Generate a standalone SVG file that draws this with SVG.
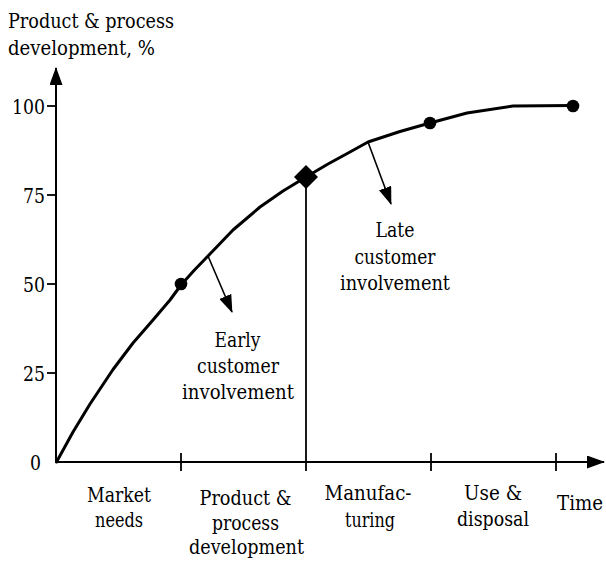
<svg xmlns="http://www.w3.org/2000/svg" width="606" height="561" viewBox="0 0 606 561">
<style>
text{font-family:'DejaVu Serif Condensed','DejaVu Serif','Liberation Serif',serif;font-stretch:condensed;font-size:20px;fill:#000}
.c{text-anchor:middle}
.r{text-anchor:end}
.ax{stroke:#000;stroke-width:2;fill:none}
.tk{stroke:#000;stroke-width:1.8;fill:none}
.cv{stroke:#000;stroke-width:3;fill:none;stroke-linejoin:round;stroke-linecap:round}
.ar{stroke:#000;stroke-width:1.6;fill:none}
</style>
<defs>
<marker id="ah" viewBox="0 0 18 13" refX="17" refY="6.5" markerWidth="18" markerHeight="13" markerUnits="userSpaceOnUse" orient="auto">
<path d="M0,0 L18,6.5 L0,13 z" fill="#000"/>
</marker>
</defs>
<rect width="606" height="561" fill="#fff"/>
<g id="connectors">
<line class="ax" x1="56" y1="462" x2="56" y2="68" marker-end="url(#ah)"/>
<line class="ax" x1="56" y1="462" x2="604" y2="462" marker-end="url(#ah)"/>
<g id="y-ticks">
<line class="tk" x1="47" y1="106" x2="56" y2="106"/>
<line class="tk" x1="47" y1="195" x2="56" y2="195"/>
<line class="tk" x1="47" y1="284" x2="56" y2="284"/>
<line class="tk" x1="47" y1="373" x2="56" y2="373"/>
</g>
<g id="x-ticks">
<line class="tk" x1="181" y1="453" x2="181" y2="471"/>
<line class="tk" x1="431" y1="453" x2="431" y2="471"/>
<line class="tk" x1="556" y1="453" x2="556" y2="471"/>
</g>
<line class="tk" x1="306" y1="177" x2="306" y2="471"/>
<polyline class="cv" points="56.5,462 73,432 90,404 106,380 113,369.5 133,343 153,320 170,300 181,285 194,270.5 208,256 233,230 260,207 283,191 306,177 328,164 350,152 368,142 400,131.5 430,123 467,113 513,106 573,105.5"/>
<line class="ar" x1="208" y1="256" x2="232" y2="312" marker-end="url(#ah)"/>
<line class="ar" x1="368" y1="142" x2="391" y2="204" marker-end="url(#ah)"/>
</g>
<g id="point-50"><circle cx="181" cy="284" r="6.3" fill="#000"/></g>
<g id="point-80"><path d="M306,165 L318,177 L306,189 L294,177 z" fill="#000"/></g>
<g id="point-95"><circle cx="430" cy="123" r="6.3" fill="#000"/></g>
<g id="point-100"><circle cx="573" cy="106" r="6.3" fill="#000"/></g>
<g id="y-title">
<text x="8" y="28" textLength="166" lengthAdjust="spacingAndGlyphs">Product &amp; process</text>
<text x="8" y="55" textLength="147" lengthAdjust="spacingAndGlyphs">development, %</text>
</g>
<g id="y-labels">
<text class="r" x="45" y="113.5" textLength="33" lengthAdjust="spacingAndGlyphs">100</text>
<text class="r" x="45" y="202.5" textLength="22" lengthAdjust="spacingAndGlyphs">75</text>
<text class="r" x="45" y="291.5" textLength="22" lengthAdjust="spacingAndGlyphs">50</text>
<text class="r" x="45" y="380.5" textLength="22" lengthAdjust="spacingAndGlyphs">25</text>
<text class="r" x="41" y="469.5" textLength="11" lengthAdjust="spacingAndGlyphs">0</text>
</g>
<g id="early-label">
<text class="c" x="237.5" y="346.5" textLength="46" lengthAdjust="spacingAndGlyphs">Early</text>
<text class="c" x="238" y="372.5" textLength="82" lengthAdjust="spacingAndGlyphs">customer</text>
<text class="c" x="238" y="398.5" textLength="112" lengthAdjust="spacingAndGlyphs">involvement</text>
</g>
<g id="late-label">
<text class="c" x="395" y="237" textLength="39" lengthAdjust="spacingAndGlyphs">Late</text>
<text class="c" x="395" y="264" textLength="81" lengthAdjust="spacingAndGlyphs">customer</text>
<text class="c" x="395" y="290" textLength="110" lengthAdjust="spacingAndGlyphs">involvement</text>
</g>
<g id="phase-market">
<text class="c" x="119" y="501.5" textLength="64" lengthAdjust="spacingAndGlyphs">Market</text>
<text class="c" x="119" y="527" textLength="48" lengthAdjust="spacingAndGlyphs">needs</text>
</g>
<g id="phase-development">
<text class="c" x="245.5" y="504.5" textLength="92" lengthAdjust="spacingAndGlyphs">Product &amp;</text>
<text class="c" x="245.5" y="530" textLength="67" lengthAdjust="spacingAndGlyphs">process</text>
<text class="c" x="246.5" y="553.5" textLength="115" lengthAdjust="spacingAndGlyphs">development</text>
</g>
<g id="phase-manufacturing">
<text class="c" x="368" y="500" textLength="87" lengthAdjust="spacingAndGlyphs">Manufac-</text>
<text class="c" x="370" y="526.5" textLength="50" lengthAdjust="spacingAndGlyphs">turing</text>
</g>
<g id="phase-use">
<text class="c" x="493" y="499.5" textLength="58" lengthAdjust="spacingAndGlyphs">Use &amp;</text>
<text class="c" x="493" y="526" textLength="72" lengthAdjust="spacingAndGlyphs">disposal</text>
</g>
<g id="time-label"><text x="557" y="510" textLength="46" lengthAdjust="spacingAndGlyphs">Time</text></g>
</svg>
